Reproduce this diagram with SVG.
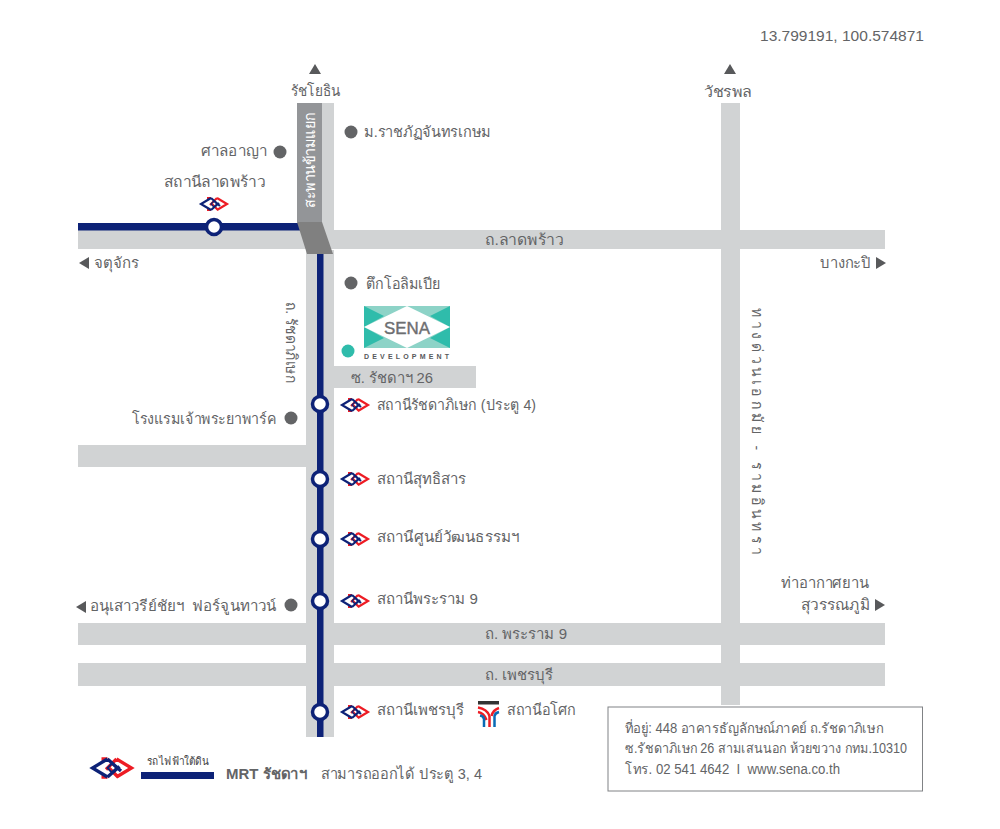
<svg xmlns="http://www.w3.org/2000/svg" width="1000" height="829" viewBox="0 0 1000 829">
<style>
text{font-family:"Liberation Sans","Noto Sans",sans-serif;font-size:15px;fill:#636466}
.road{fill:#d1d3d4}
.line{fill:#0d2277}
.st{fill:#fff;stroke:#0d2277;stroke-width:3.5}
.poi{fill:#636466}
.tri{fill:#58595b}
.blue{fill:none;stroke:#0d2277;stroke-width:2.2}
.thin{fill:none;stroke:#0d2277;stroke-width:1.3}
.red{fill:none;stroke:#ed1c24;stroke-width:2.2}
.addr{font-size:14px}
</style>
<defs>
<g id="mrt">
<path class="red" d="M3-6L13 0L3 6M3-6L-4 1M4 6L-3-1M-7-6H-3M-7 6H-3"/>
<path class="blue" d="M-3-6L-13 0L-3 6M-3-6L6 2M-3 6L5-1"/>
<path class="thin" d="M-3 0L0-3L3 0L0 3Z"/>
</g>
</defs>
<text x="760" y="41" textLength="164" lengthAdjust="spacingAndGlyphs" style="font-size:14.5px">13.799191, 100.574871</text>
<g id="roads">
<rect class="road" x="78" y="230" width="807" height="19"/>
<rect class="road" x="78" y="623" width="807" height="22"/>
<rect class="road" x="78" y="663" width="807" height="23"/>
<rect class="road" x="78" y="445" width="228" height="22"/>
<rect class="road" x="334" y="366" width="142" height="22"/>
<rect class="road" x="721" y="103" width="19" height="602"/>
<rect class="road" x="306" y="250" width="28" height="487"/>
<rect class="road" x="322" y="103" width="12" height="130"/>
</g>
<g id="connectors">
<rect class="line" x="78" y="223" width="222" height="7.5"/>
<rect class="line" x="317" y="254" width="6.5" height="483"/>
<rect x="297" y="103" width="25" height="119" fill="#939598"/>
<polygon points="297,222 322,222 333,254 307,254" fill="#808080"/>
</g>
<g id="flyover"><text transform="translate(315,208) rotate(-90)" textLength="96" lengthAdjust="spacingAndGlyphs" style="fill:#fff">สะพานข้ามแยก</text></g>
<g id="st-ladprao"><use href="#mrt" x="214" y="204"/><circle class="st" cx="214" cy="227" r="7.5"/><text x="164" y="187" textLength="101" lengthAdjust="spacingAndGlyphs">สถานีลาดพร้าว</text></g>
<g id="st-ratchada"><circle class="st" cx="320" cy="404" r="7.5"/><use href="#mrt" x="355" y="405"/><text x="377" y="410" textLength="159" lengthAdjust="spacingAndGlyphs">สถานีรัชดาภิเษก (ประตู 4)</text></g>
<g id="st-sutthisan"><circle class="st" cx="320" cy="479" r="7.5"/><use href="#mrt" x="355" y="479"/><text x="377" y="484" textLength="89" lengthAdjust="spacingAndGlyphs">สถานีสุทธิสาร</text></g>
<g id="st-culture"><circle class="st" cx="320" cy="539" r="7.5"/><use href="#mrt" x="355" y="539"/><text x="377" y="542" textLength="142" lengthAdjust="spacingAndGlyphs">สถานีศูนย์วัฒนธรรมฯ</text></g>
<g id="st-rama9"><circle class="st" cx="320" cy="601" r="7.5"/><use href="#mrt" x="355" y="601"/><text x="377" y="604" textLength="101" lengthAdjust="spacingAndGlyphs">สถานีพระราม 9</text></g>
<g id="st-phetchaburi"><circle class="st" cx="320" cy="712" r="7.5"/><use href="#mrt" x="355" y="712"/><text x="377" y="715" textLength="87" lengthAdjust="spacingAndGlyphs">สถานีเพชรบุรี</text></g>
<g id="st-asok">
<rect x="478" y="701" width="21" height="3.5" fill="#333"/>
<path d="M478 707.5Q487 709 489.5 716M478 712Q484 713 486.5 720" fill="none" stroke="#ed1c24" stroke-width="2.5"/>
<path d="M499 708Q493 710 491.500 716" fill="none" stroke="#ed1c24" stroke-width="2.5"/>
<path d="M484 727V719Q483.5 716 480 715.5M494.5 727V716Q495 713 499 712" fill="none" stroke="#0a6bb5" stroke-width="2.5"/>
<path d="M489.5 716V727" fill="none" stroke="#ed1c24" stroke-width="2.5"/>
<text x="507" y="715" textLength="69" lengthAdjust="spacingAndGlyphs">สถานีอโศก</text></g>
<g id="poi-ratchaphat"><circle class="poi" cx="351" cy="132" r="6.5"/><text x="364" y="137" textLength="127" lengthAdjust="spacingAndGlyphs">ม.ราชภัฏจันทรเกษม</text></g>
<g id="poi-court"><circle class="poi" cx="280" cy="152" r="6.5"/><text x="201" y="156" textLength="66" lengthAdjust="spacingAndGlyphs">ศาลอาญา</text></g>
<g id="poi-olympia"><circle class="poi" cx="351" cy="283" r="6.5"/><text x="366" y="289" textLength="75" lengthAdjust="spacingAndGlyphs">ตึกโอลิมเปีย</text></g>
<g id="poi-hotel"><circle class="poi" cx="291" cy="418" r="6.5"/><text x="132" y="424" textLength="144" lengthAdjust="spacingAndGlyphs">โรงแรมเจ้าพระยาพาร์ค</text></g>
<g id="poi-fortune"><circle class="poi" cx="291" cy="605" r="6.5"/><text x="90" y="611" textLength="186" lengthAdjust="spacingAndGlyphs" xml:space="preserve">อนุเสาวรีย์ชัยฯ  ฟอร์จูนทาวน์</text><polygon class="tri" points="76,607 86,601 86,613"/></g>
<g id="sena">
<circle cx="348" cy="351" r="6.5" fill="#2fbcab"/>
<rect x="364" y="306" width="86" height="42" fill="#8dd3c7"/>
<polygon points="364,306 384,316 364,327 384,338 364,348" fill="#2fbcab"/>
<polygon points="450,306 430,316 450,327 430,338 450,348" fill="#2fbcab"/>
<polygon points="407,306 450,327 407,348 364,327" fill="#fff"/>
<text x="384" y="333.5" textLength="46" lengthAdjust="spacingAndGlyphs" style="font-size:17px;fill:#6d6e71;stroke:#6d6e71;stroke-width:.4">SENA</text>
<text x="364" y="359" textLength="85" style="font-size:7px;font-weight:bold;fill:#58595b">DEVELOPMENT</text>
</g>
<g id="labels">
<polygon class="tri" points="315,64 321,74 309,74"/><text x="291" y="96" textLength="49" lengthAdjust="spacingAndGlyphs">รัชโยธิน</text>
<polygon class="tri" points="730,64 736,74 724,74"/><text x="704" y="97" textLength="48" lengthAdjust="spacingAndGlyphs">วัชรพล</text>
<text x="485" y="245" textLength="78" lengthAdjust="spacingAndGlyphs">ถ.ลาดพร้าว</text>
<polygon class="tri" points="79,263 89,257 89,269"/><text x="94" y="268" textLength="45" lengthAdjust="spacingAndGlyphs">จตุจักร</text>
<text x="820" y="268" textLength="51" lengthAdjust="spacingAndGlyphs">บางกะปิ</text><polygon class="tri" points="886,263 876,257 876,269"/>
<text x="351" y="383" textLength="82" lengthAdjust="spacingAndGlyphs">ซ. รัชดาฯ 26</text>
<text transform="translate(286,302) rotate(90)" textLength="81" lengthAdjust="spacingAndGlyphs">ถ. รัชดาภิเษก</text>
<text transform="translate(752,308) rotate(90)" textLength="250" lengthAdjust="spacingAndGlyphs" style="letter-spacing:4px">ทางด่วนเอกมัย - รามอินทรา</text>
<text x="485" y="639" textLength="82" lengthAdjust="spacingAndGlyphs">ถ. พระราม 9</text>
<text x="485" y="680" textLength="68" lengthAdjust="spacingAndGlyphs">ถ. เพชรบุรี</text>
<text x="781" y="588" textLength="88" lengthAdjust="spacingAndGlyphs">ท่าอากาศยาน</text>
<text x="801" y="610" textLength="69" lengthAdjust="spacingAndGlyphs">สุวรรณภูมิ</text><polygon class="tri" points="885,605 875,599 875,611"/>
</g>
<g id="legend">
<use href="#mrt" transform="translate(112,768) scale(1.5)"/>
<rect class="line" x="141" y="772" width="73" height="7"/>
<text x="147" y="765" textLength="62" lengthAdjust="spacingAndGlyphs" style="font-size:11px;fill:#414042">รถไฟฟ้าใต้ดิน</text>
<text x="226" y="779" textLength="81" lengthAdjust="spacingAndGlyphs" style="font-weight:bold;font-size:14.5px">MRT รัชดาฯ</text>
<text x="321" y="779" textLength="161" lengthAdjust="spacingAndGlyphs">สามารถออกได้ ประตู 3, 4</text>
</g>
<g id="address">
<rect x="608" y="707" width="314.5" height="84" fill="#fff" stroke="#808285" stroke-width="1"/>
<text class="addr" x="625" y="733" textLength="258" lengthAdjust="spacingAndGlyphs">ที่อยู่: 448 อาคารธัญลักษณ์ภาคย์ ถ.รัชดาภิเษก</text>
<text class="addr" x="625" y="753" textLength="282" lengthAdjust="spacingAndGlyphs">ซ.รัชดาภิเษก 26 สามเสนนอก ห้วยขวาง กทม.10310</text>
<text class="addr" x="625" y="774" textLength="215" lengthAdjust="spacingAndGlyphs" xml:space="preserve">โทร. 02 541 4642  I  www.sena.co.th</text>
</g>
</svg>
